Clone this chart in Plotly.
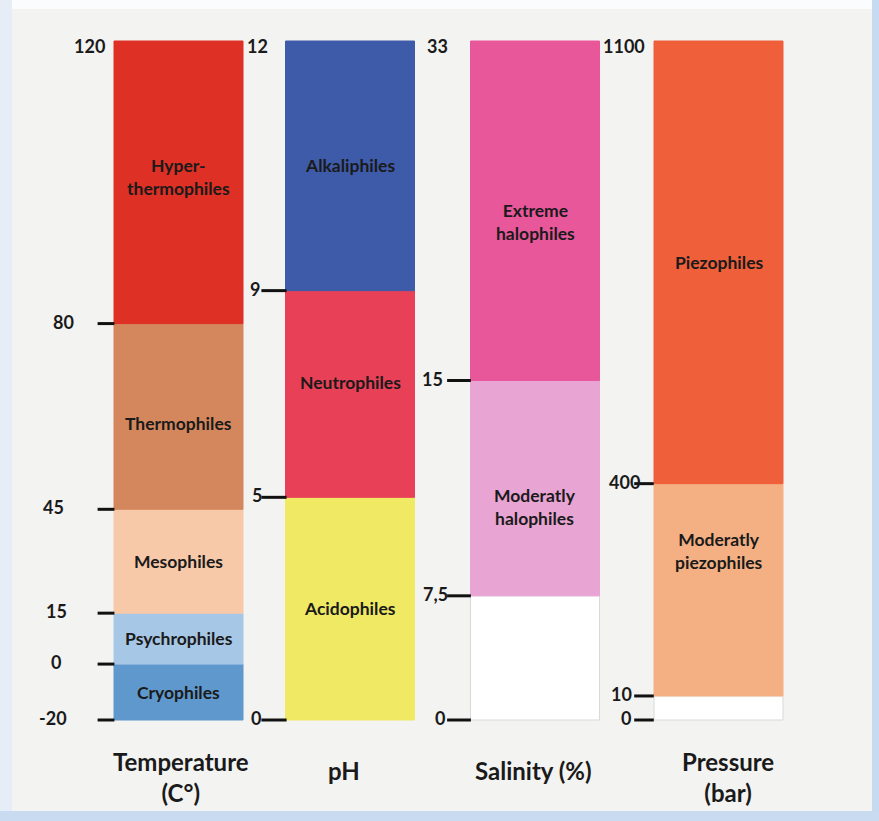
import plotly.graph_objects as go

# ---------------- data ----------------
temp_bounds = [-20, 0, 15, 45, 80, 120]
temp_groups = ["Cryophiles", "Psychrophiles", "Mesophiles", "Thermophiles", "Hyper-<br>thermophiles"]

ph_bounds = [0, 5, 9, 12]
ph_groups = ["Acidophiles", "Neutrophiles", "Alkaliphiles"]

sal_bounds = [0, 7.5, 15, 33]
sal_groups = ["", "Moderatly<br>halophiles", "Extreme<br>halophiles"]

press_bounds = [0, 10, 400, 1100]
press_groups = ["", "Moderatly<br>piezophiles", "Piezophiles"]

axis_titles = ["Temperature<br>(C°)", "pH", "Salinity (%)", "Pressure<br>(bar)"]

# ---------------- layout / style ----------------
W, H = 879, 821
col_top_px, col_bot_px = 41, 720

# visual (non-linear) heights of each band, bottom to top, in the original illustration
temp_vis = [56, 51, 104, 186, 283]
ph_vis = [223, 207, 250]
sal_vis = [124, 215, 339]
press_vis = [24, 212, 442]

temp_colors = ["#5f98cc", "#a7c7e6", "#f7c9a9", "#d4875c", "#de3024"]
ph_colors = ["#f0e964", "#e84057", "#3e5ba9"]
sal_colors = ["#ffffff", "#e8a4d3", "#e9579b"]
press_colors = ["#ffffff", "#f4b083", "#ef5f3a"]

label_frac_temp = [0.5, 0.5, 0.5, 0.46, 0.52]
label_frac_ph = [0.5, 0.556, 0.5]
label_frac_sal = [0.5, 0.414, 0.466]
label_frac_press = [0.5, 0.684, 0.5]

columns = [
    dict(bounds=temp_bounds, groups=temp_groups, vis=temp_vis, colors=temp_colors,
         frac=label_frac_temp, xc=178.5, dash_w=12, dash_x=106,
         lab_x=[53, 56, 56, 53, 63], top_x=107, fmt=lambda v: f"{v:g}"),
    dict(bounds=ph_bounds, groups=ph_groups, vis=ph_vis, colors=ph_colors,
         frac=label_frac_ph, xc=350, dash_w=18, dash_x=274,
         lab_x=[256, 257, 255], top_x=270, fmt=lambda v: f"{v:g}"),
    dict(bounds=sal_bounds, groups=sal_groups, vis=sal_vis, colors=sal_colors,
         frac=label_frac_sal, xc=535, dash_w=17, dash_x=459,
         lab_x=[440, 435, 432], top_x=450, fmt=lambda v: f"{v:g}".replace(".", ",")),
    dict(bounds=press_bounds, groups=press_groups, vis=press_vis, colors=press_colors,
         frac=label_frac_press, xc=718.5, dash_w=14, dash_x=644,
         lab_x=[626, 621, 624], top_x=647, fmt=lambda v: f"{v:g}"),
]
bar_w = 129
FONT = "Lato"
TXT = "#1a1a1a"
SEG_SIZE = 17.5
TICK_SIZE = 18
TITLE_SIZE = 24

scale = col_bot_px - col_top_px
y_lo = -(H - col_bot_px) / scale
y_hi = y_lo + H / scale

fig = go.Figure()
annotations = []

for col in columns:
    total = sum(col["vis"])
    heights = [v / total for v in col["vis"]]
    bases = [sum(heights[:i]) for i in range(len(heights))]
    n = len(heights)
    fig.add_trace(go.Bar(
        x=[col["xc"]] * n, y=heights, base=bases, width=bar_w,
        marker=dict(color=col["colors"],
                    line=dict(color=["#d9d9d9" if c == "#ffffff" else c for c in col["colors"]],
                              width=1)),
        hoverinfo="skip", showlegend=False,
    ))
    for name, b, h, f in zip(col["groups"], bases, heights, col["frac"]):
        if name:
            annotations.append(dict(x=col["xc"], y=b + f * h, text=f"<b>{name}</b>",
                                    showarrow=False, font=dict(family=FONT, size=SEG_SIZE, color=TXT),
                                    xanchor="center", yanchor="middle"))
    bvals = col["bounds"]
    tick_y = [0] + [sum(heights[:i + 1]) for i in range(n - 1)]
    fig.add_trace(go.Scatter(
        x=[col["dash_x"]] * len(tick_y), y=tick_y, mode="markers",
        marker=dict(symbol="line-ew", size=col["dash_w"], line=dict(width=3, color="#111111")),
        hoverinfo="skip", showlegend=False,
    ))
    for v, ty, lx in zip(bvals[:-1], tick_y, col["lab_x"]):
        annotations.append(dict(x=lx, y=ty, text=f"<b>{col['fmt'](v)}</b>", showarrow=False,
                                font=dict(family=FONT, size=TICK_SIZE, color=TXT),
                                xanchor="center", yanchor="middle", yshift=2))
    annotations.append(dict(x=col["top_x"], y=1, text=f"<b>{col['fmt'](bvals[-1])}</b>",
                            showarrow=False, font=dict(family=FONT, size=TICK_SIZE, color=TXT),
                            xanchor="right", yanchor="middle", yshift=-5))

title_pos = [(181, 777), (344, 770), (533, 770), (728, 777)]
for t, (tx, ty) in zip(axis_titles, title_pos):
    annotations.append(dict(x=tx, y=1 - ty / H, yref="paper", text=f"<b>{t}</b>",
                            showarrow=False, font=dict(family=FONT, size=TITLE_SIZE, color=TXT),
                            xanchor="center", yanchor="middle"))

shapes = [
    dict(type="rect", xref="paper", yref="paper", x0=0, x1=1, y0=1 - 9 / H, y1=1,
         fillcolor="#fbfcfd", line_width=0, layer="below"),
    dict(type="rect", xref="paper", yref="paper", x0=0, x1=12 / W, y0=0, y1=1,
         fillcolor="#e6edf7", line_width=0, layer="below"),
    dict(type="rect", xref="paper", yref="paper", x0=1 - 7 / W, x1=1, y0=0, y1=1,
         fillcolor="#c6daf2", line_width=0, layer="below"),
    dict(type="rect", xref="paper", yref="paper", x0=0, x1=1, y0=0, y1=10 / H,
         fillcolor="#c8dbf1", line_width=0, layer="below"),
]

fig.update_layout(
    width=W, height=H,
    margin=dict(l=0, r=0, t=0, b=0),
    paper_bgcolor="#f3f3f2", plot_bgcolor="rgba(0,0,0,0)",
    barmode="overlay",
    xaxis=dict(range=[0, W], visible=False, fixedrange=True),
    yaxis=dict(range=[y_lo, y_hi], visible=False, fixedrange=True),
    annotations=annotations, shapes=shapes,
    font=dict(family=FONT),
)

fig.write_html("out.html", config={"displayModeBar": False},
               post_script="document.body.style.margin='0';document.body.style.overflow='hidden';")
